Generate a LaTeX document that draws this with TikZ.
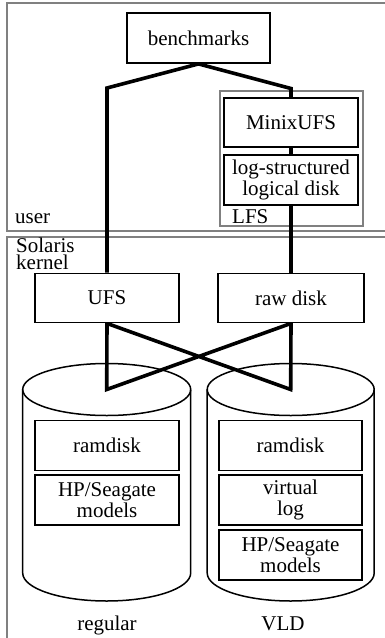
\documentclass[tikz,border=0pt]{standalone}
\usepackage{fontspec}
\setmainfont{Liberation Serif}
\pgfdeclarelayer{frames}
\pgfdeclarelayer{conn}
\pgfsetlayers{frames,conn,main}
\definecolor{framegray}{RGB}{128,128,128}
\begin{document}
\begin{tikzpicture}[x=1pt,y=-1pt,
  txt/.style={font=\fontsize{21}{21}\selectfont, inner sep=0pt, align=center},
  box/.style={txt, draw=black, fill=white, line width=1.8pt},
  frame/.style={draw=framegray, line width=2pt},
  link/.style={line width=3.6pt, line join=miter},
  cyl/.style={draw=black, line width=1.5pt}]
\useasboundingbox (0,0) rectangle (385,638);
\clip (0,0) rectangle (385,638);

% boxes
\node[box, minimum width=143, minimum height=50] (b) at (198.5,38) {benchmarks};
\node[box, minimum width=134, minimum height=49] (m) at (291,122.5) {MinixUFS};
\node[box, minimum width=134, minimum height=50] (l) at (291,180) {log-structured\\logical disk};
\node[box, minimum width=144, minimum height=49] (u) at (107,298) {UFS};
\node[box, minimum width=146, minimum height=49] (r) at (291,298) {raw disk};

% frames
\begin{pgfonlayer}{frames}
  \draw[frame] (6.5,3) rectangle (400,231);
  \draw[frame] (6.5,236.5) rectangle (400,660);
  \node[frame, minimum width=142.5, minimum height=135, inner sep=0pt] (lfs) at (291.25,158.5) {};
\end{pgfonlayer}

% labels
\node[txt, anchor=base west] (user) at (15,223) {user};
\node[txt, anchor=base west] (lfslabel) at (232,223) {LFS};
\node[txt, anchor=north west, align=left, font=\fontsize{21}{17}\selectfont] (kern) at (16,238) {Solaris\\kernel};

% cylinders
\coordinate (dl) at (106.7,389.5);
\coordinate (dr) at (290.7,389.5);
\draw[cyl] (dl) ellipse[x radius=84, y radius=26];
\draw[cyl] (22.7,389.5) -- (22.7,573) arc[start angle=180, end angle=0, x radius=84, y radius=28] -- (190.7,389.5);
\draw[cyl] (dr) ellipse[x radius=83.5, y radius=26];
\draw[cyl] (207.2,389.5) -- (207.2,573) arc[start angle=180, end angle=0, x radius=83.5, y radius=28] -- (374.2,389.5);

% disk contents
\node[box, minimum width=144, minimum height=50] (rd1) at (107,445.5) {ramdisk};
\node[box, minimum width=144, minimum height=50] (hp1) at (107,500) {HP/Seagate\\models};
\node[box, minimum width=143, minimum height=50] (rd2) at (290.5,445.5) {ramdisk};
\node[box, minimum width=143, minimum height=50] (vl) at (290.5,500) {virtual\\log};
\node[box, minimum width=143, minimum height=50] (hp2) at (290.5,555) {HP/Seagate\\models};

\node[txt, anchor=base] (reg) at (107,630.5) {regular};
\node[txt, anchor=base] (vld) at (283,630.5) {VLD};

% connectors
\coordinate (bl) at (107,88);
\coordinate (br) at (291,88.5);
\begin{pgfonlayer}{conn}
  \draw[link] (u.north) -- (bl) -- (b.south) -- (br) -- (m.north);
  \draw[link] (m.south) -- (l.north);
  \draw[link] (l.south) -- (r.north);
  \draw[link] (u.south) -- (dl) -- (r.south) -- (dr) -- cycle;
\end{pgfonlayer}
\end{tikzpicture}
\end{document}
